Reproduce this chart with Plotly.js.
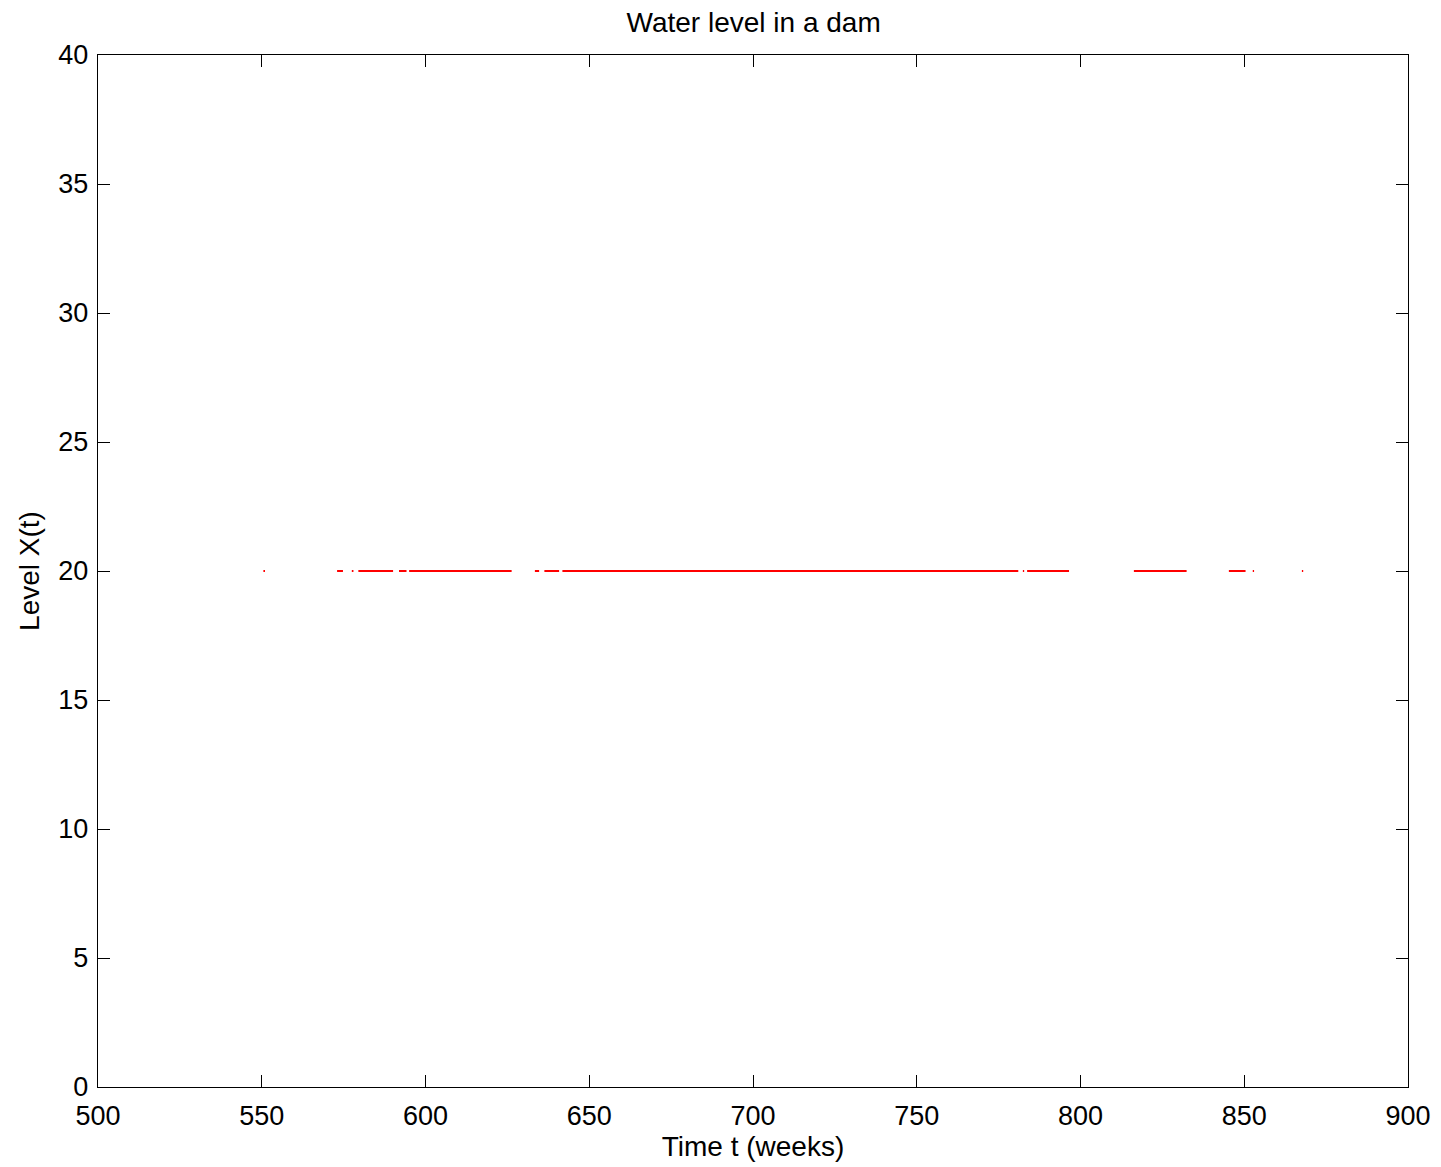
<!DOCTYPE html>
<html>
<head>
<meta charset="utf-8">
<script src="https://cdn.plot.ly/plotly-3.0.1.min.js"></script>
<style>html,body{margin:0;padding:0;background:#fff;}</style>
</head>
<body>
<div id="chart" style="width:1441px;height:1167px;"></div>
<script>
// Runs of weeks during which the level X(t) sits at the cap value
var segStart = [550.5, 573.0, 577.5, 579.5, 591.9, 595.0, 633.4, 636.3, 641.8, 782.8, 783.7, 816.3, 845.3, 852.6, 867.6];
var segEnd   = [551.0, 574.8, 578.0, 590.1, 594.2, 626.3, 634.7, 640.8, 781.0, 782.4, 796.5, 832.4, 850.4, 853.0, 868.0];
var capLevel = 20;

var xs = [], ys = [];
for (var i = 0; i < segStart.length; i++) {
  xs.push(segStart[i], segEnd[i], null);
  ys.push(capLevel, capLevel, null);
}

var font = "'Liberation Sans', Arial, Helvetica, sans-serif";
var trace = {
  x: xs, y: ys, type: 'scatter', mode: 'lines',
  line: {color: '#ff0000', width: 2},
  connectgaps: false, hoverinfo: 'skip', showlegend: false
};

var axisCommon = {
  showgrid: false, zeroline: false, showline: true, mirror: 'ticks',
  linecolor: '#000', linewidth: 1.3, ticks: 'inside', ticklen: 12,
  tickcolor: '#000', tickwidth: 1, tickfont: {family: font, size: 27, color: '#000'}
};

var layout = {
  width: 1441, height: 1167,
  margin: {l: 98, r: 33, t: 55, b: 80},
  paper_bgcolor: '#fff', plot_bgcolor: '#fff',
  title: {text: 'Water level in a dam', font: {family: font, size: 28, color: '#000'}, x: 0.523, xanchor: 'center', y: 0.981, yanchor: 'middle'},
  xaxis: Object.assign({}, axisCommon, {
    range: [500, 900], tickmode: 'linear', tick0: 500, dtick: 50,
    ticklabelstandoff: 4,
    title: {text: 'Time t (weeks)', font: {family: font, size: 28, color: '#000'}, standoff: 1}
  }),
  yaxis: Object.assign({}, axisCommon, {
    range: [0, 40], tickmode: 'linear', tick0: 0, dtick: 5,
    ticklabelstandoff: 3,
    title: {text: 'Level X(t)', font: {family: font, size: 28, color: '#000'}, standoff: 10}
  })
};

Plotly.newPlot('chart', [trace], layout, {staticPlot: true, displayModeBar: false});
</script>
</body>
</html>
